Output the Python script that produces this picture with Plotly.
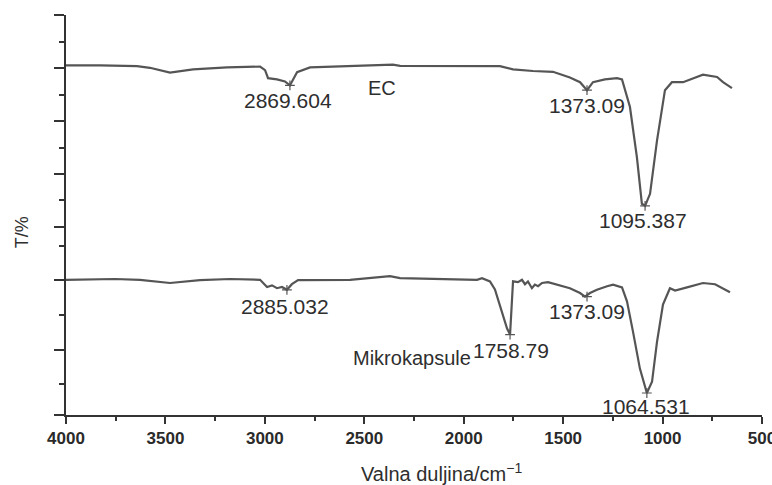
import plotly.graph_objects as go

# ---- data (wavenumber cm^-1, transmittance in arbitrary % units) ----
ec_wn = [4000, 3829, 3643, 3578, 3477, 3361, 3190, 3024, 2999, 2984, 2939, 2899, 2874,
         2838, 2773, 2356, 2320, 1818, 1752, 1652, 1551, 1466, 1415, 1380, 1350, 1290,
         1229, 1204, 1164, 1129, 1104, 1088, 1063, 1028, 988, 953, 897, 797, 726, 696, 651]
ec_t = [87.4, 87.4, 87.2, 86.8, 85.6, 86.4, 86.9, 87.1, 86.2, 84.2, 83.9, 83.4, 82.4,
        85.7, 86.9, 87.6, 87.3, 87.2, 86.4, 86.0, 85.8, 84.4, 83.2, 81.2, 83.2, 83.9,
        84.2, 83.9, 77.0, 64.4, 52.8, 52.3, 55.3, 68.6, 81.2, 83.2, 83.2, 85.1, 84.5, 83.2, 81.7]

mk_wn = [4000, 3754, 3628, 3477, 3326, 3175, 3024, 2989, 2964, 2939, 2914, 2889, 2864,
         2833, 2572, 2371, 2320, 1933, 1908, 1868, 1843, 1807, 1782, 1767, 1757, 1752,
         1727, 1707, 1692, 1677, 1657, 1642, 1626, 1606, 1576, 1526, 1466, 1415, 1390,
         1365, 1330, 1279, 1249, 1204, 1179, 1149, 1114, 1079, 1053, 1028, 998, 963,
         937, 877, 827, 797, 736, 696, 661]
mk_t = [33.8, 34.0, 33.8, 33.0, 33.7, 34.0, 33.8, 32.0, 32.4, 31.7, 32.0, 31.3, 32.7,
        33.7, 33.8, 34.7, 34.2, 33.8, 34.2, 33.4, 31.4, 25.9, 21.6, 20.1, 30.2, 33.4,
        33.2, 33.8, 32.7, 33.4, 31.7, 32.6, 32.2, 33.0, 33.2, 32.6, 31.7, 30.5, 29.6,
        30.5, 31.3, 32.2, 32.6, 31.9, 28.4, 20.9, 11.6, 5.5, 8.3, 18.3, 27.6, 31.7,
        31.1, 31.9, 32.6, 33.0, 32.7, 31.7, 30.7]

# marked peaks
ec_peak_wn = [2874, 1380, 1088]
ec_peak_t = [82.4, 81.2, 52.3]
mk_peak_wn = [2889, 1767, 1380, 1079]
mk_peak_t = [31.3, 20.1, 29.6, 5.5]

# peak labels: text, x (wn), y
label_text = ["2869.604", "1373.09", "1095.387", "2885.032", "1758.79", "1373.09", "1064.531"]
label_x = [2884, 1380, 1098, 2899, 1762, 1380, 1083]
label_y = [78.6, 77.4, 48.7, 27.1, 16.1, 25.9, 2.2]

series_names = ["EC", "Mikrokapsule"]
series_label_x = [2411, 2260]
series_label_y = [81.7, 14.3]

x_major = [4000, 3500, 3000, 2500, 2000, 1500, 1000, 500]
x_minor = [3750, 3250, 2750, 2250, 1750, 1250, 750]
y_major = [100, 86.7, 73.4, 60.3, 47.0, 33.7, 16.3, 0]
y_minor = [93.2, 79.9, 66.8, 53.8, 42.2, 25.1, 7.8]

x_title = "Valna duljina/cm<sup>−1</sup>"
y_title = "T/%"

LINE = "#555555"
AX = "#333333"
TXT = "#2e2e2e"
FONT = "Liberation Sans, Arial, sans-serif"

fig = go.Figure()
fig.add_trace(go.Scatter(x=ec_wn, y=ec_t, mode="lines", line=dict(color=LINE, width=2.2),
                         showlegend=False, hoverinfo="skip"))
fig.add_trace(go.Scatter(x=mk_wn, y=mk_t, mode="lines", line=dict(color=LINE, width=2.2),
                         showlegend=False, hoverinfo="skip"))
fig.add_trace(go.Scatter(x=ec_peak_wn + mk_peak_wn, y=ec_peak_t + mk_peak_t, mode="markers",
                         marker=dict(symbol="cross-thin", size=7, line=dict(color=LINE, width=1.2)),
                         showlegend=False, hoverinfo="skip"))

for t, x, y in zip(label_text, label_x, label_y):
    fig.add_annotation(x=x, y=y, text=t, showarrow=False, xanchor="center", yanchor="middle",
                       font=dict(family=FONT, size=21, color=TXT))
for t, x, y in zip(series_names, series_label_x, series_label_y):
    fig.add_annotation(x=x, y=y, text=t, showarrow=False, xanchor="center", yanchor="middle",
                       font=dict(family=FONT, size=20, color=TXT))

# axis titles as annotations (positioned like the reference)
fig.add_annotation(xref="paper", yref="paper", x=0.539, y=-0.143, text=x_title,
                   showarrow=False, xanchor="center", yanchor="middle",
                   font=dict(family=FONT, size=20, color=TXT))
fig.add_annotation(xref="paper", yref="paper", x=-0.063, y=0.4575, text=y_title, textangle=-90,
                   showarrow=False, xanchor="center", yanchor="middle",
                   font=dict(family=FONT, size=18, color=TXT))

fig.update_layout(
    width=772, height=485,
    margin=dict(l=66, r=10, t=15, b=70),
    paper_bgcolor="white", plot_bgcolor="white",
    font=dict(family=FONT, color=AX),
    xaxis=dict(
        range=[4000, 500], showgrid=False, zeroline=False, automargin=False,
        showline=True, linecolor=AX, linewidth=2,
        tickmode="array", tickvals=x_major, ticktext=[str(v) for v in x_major],
        ticks="outside", ticklen=7, tickwidth=2, tickcolor=AX,
        ticklabeloverflow="allow",
        tickfont=dict(family=FONT, size=17, color="#2a2a2a", weight="bold"),
        minor=dict(tickmode="array", tickvals=x_minor, ticks="outside", ticklen=4,
                   tickwidth=2, tickcolor=AX, showgrid=False),
    ),
    yaxis=dict(
        range=[0, 100], showgrid=False, zeroline=False, automargin=False,
        showline=True, linecolor=AX, linewidth=2,
        tickmode="array", tickvals=y_major, showticklabels=False,
        ticks="outside", ticklen=10, tickwidth=2, tickcolor=AX,
        minor=dict(tickmode="array", tickvals=y_minor, ticks="outside", ticklen=5,
                   tickwidth=2, tickcolor=AX, showgrid=False),
    ),
)

fig.write_html("out.html", config={"displayModeBar": False},
               post_script="document.body.style.margin='0';document.body.style.padding='0';")
